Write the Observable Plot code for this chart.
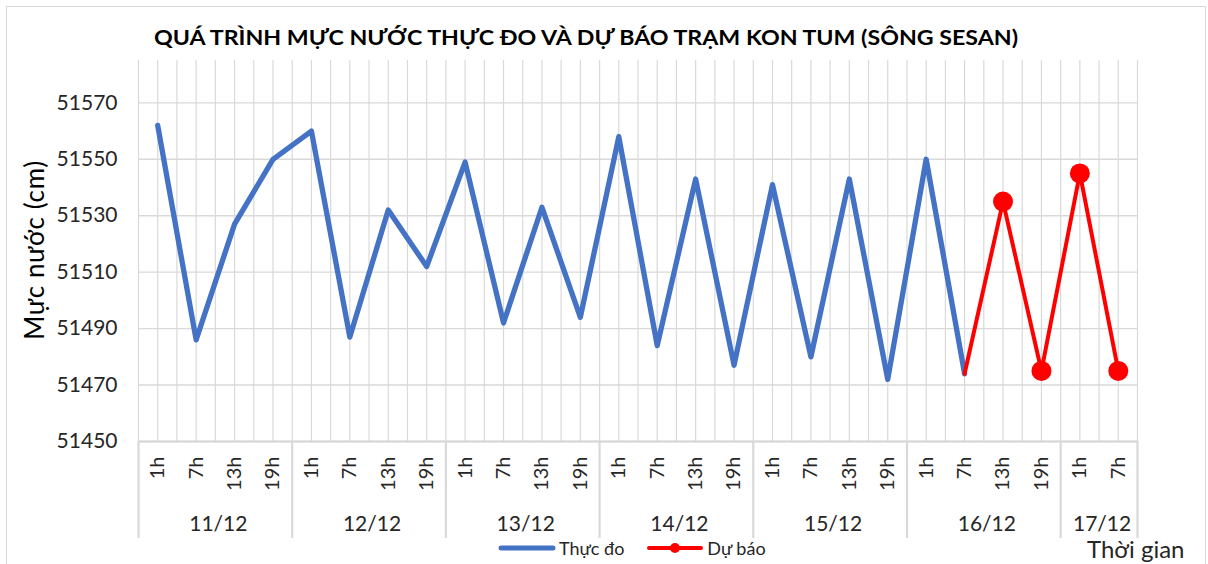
<!DOCTYPE html>
<html><head><meta charset="utf-8">
<script src="https://cdn.jsdelivr.net/npm/d3@7"></script>
<script src="https://cdn.jsdelivr.net/npm/@observablehq/plot@0.6"></script>
<style>
body{margin:0;background:#fff;}
#wrap{position:relative;width:1208px;height:564px;overflow:hidden;font-family:Lato,"Open Sans",sans-serif;color:#262626;}
#frame{position:absolute;left:6px;top:6px;width:1200px;height:620px;border:1.5px solid #d9d9d9;box-sizing:border-box;}
#chart{position:absolute;left:0;top:0;}
#title{position:absolute;top:27px;left:154px;white-space:nowrap;font-weight:bold;font-size:20px;color:#000;transform-origin:0 0;line-height:1;}
#ylab{position:absolute;left:34px;top:250px;white-space:nowrap;font-size:26px;letter-spacing:0.6px;transform:translate(-50%,-50%) rotate(-90deg);color:#000;}
#xlab{position:absolute;left:1087px;top:537px;font-size:24px;line-height:1;white-space:nowrap;color:#262626;}
#legend{position:absolute;left:498px;top:537px;display:flex;align-items:center;font-size:18px;white-space:nowrap;}
#legend .item{display:flex;align-items:center;margin-right:22px;}
#legend svg{margin-right:3px;}
</style></head>
<body>
<div id="wrap">
  <div id="frame"></div>
  <div id="chart"></div>
  <div id="title"><span id="tspan">QUÁ TRÌNH MỰC NƯỚC THỰC ĐO VÀ DỰ BÁO TRẠM KON TUM (SÔNG SESAN)</span></div>
  <div id="ylab">Mực nước (cm)</div>
  <div id="legend">
    <div class="item"><svg width="58" height="12"><line x1="3" y1="6" x2="55" y2="6" stroke="#4472C4" stroke-width="5" stroke-linecap="round"/></svg><span>Thực đo</span></div>
    <div class="item"><svg width="58" height="12"><line x1="3" y1="6" x2="55" y2="6" stroke="#ff0000" stroke-width="4" stroke-linecap="round"/><circle cx="29" cy="6" r="5" fill="#ff0000"/></svg><span>Dự báo</span></div>
  </div>
  <div id="xlab">Thời gian</div>
</div>
<script>
// ---- data ----
const dayLabels = ["11/12","12/12","13/12","14/12","15/12","16/12","17/12"];
const dayCounts = [4,4,4,4,4,4,2];
const hourLabels = ["1h","7h","13h","19h","1h","7h","13h","19h","1h","7h","13h","19h","1h","7h","13h","19h","1h","7h","13h","19h","1h","7h","13h","19h","1h","7h"];
const measured = [51562,51486,51527,51550,51560,51487,51532,51512,51549,51492,51533,51494,51558,51484,51543,51477,51541,51480,51543,51472,51550,51474];
const forecast = [null,null,null,null,null,null,null,null,null,null,null,null,null,null,null,null,null,null,null,null,null,51474,51535,51475,51545,51475];
const forecastMarker = [false,false,false,false,false,false,false,false,false,false,false,false,false,false,false,false,false,false,false,false,false,false,true,true,true,true];
const yTicks = [51450,51470,51490,51510,51530,51550,51570];

// ---- derived tables ----
const n = hourLabels.length;
const idx = d3.range(n);
const measuredData = measured.map((v,i)=>({i, v}));
const forecastData = forecast.map((v,i)=>({i, v, m: forecastMarker[i]})).filter(d=>d.v!=null);
const halfGrid = d3.range(-0.5, n, 0.5);
const dayBounds = [-0.5];
dayCounts.forEach(c=>dayBounds.push(dayBounds[dayBounds.length-1]+c));
const dayCenters = dayLabels.map((d,k)=>(dayBounds[k]+dayBounds[k+1])/2);
const dayByCenter = new Map(dayCenters.map((c,k)=>[c, dayLabels[k]]));

const chart = Plot.plot({
  width: 1208, height: 564,
  marginLeft: 138, marginRight: 71, marginTop: 60, marginBottom: 123,
  style: {fontFamily: "Lato, 'Open Sans', sans-serif", color: "#262626", background: "transparent"},
  x: {domain: [-0.5, n-0.5], axis: null},
  y: {domain: [51450, 51585], axis: null},
  marks: [
    Plot.ruleX(halfGrid, {stroke: "#d9d9d9", strokeWidth: 1.2}),
    Plot.ruleY(yTicks, {stroke: "#d9d9d9", strokeWidth: 1.4}),
    Plot.ruleY([51450], {stroke: "#d6d6d6", strokeWidth: 2.2}),
    Plot.axisX(dayBounds, {label: null, tickSize: 97, tickFormat: () => "", stroke: "#d9d9d9", strokeWidth: 2.2}),
    Plot.axisY(yTicks, {label: null, tickSize: 0, tickPadding: 21, fontSize: 21, tickFormat: d => String(d), fill: "#262626"}),
    Plot.axisX(idx, {label: null, tickSize: 0, tickPadding: 15, tickRotate: -90, fontSize: 20, tickFormat: i => hourLabels[i], fill: "#262626"}),
    Plot.axisX(dayCenters, {label: null, tickSize: 0, tickPadding: 75, fontSize: 21, dx: 3, tickFormat: c => dayByCenter.get(c), fill: "#262626"}),
    Plot.line(measuredData, {x: "i", y: "v", stroke: "#4472C4", strokeWidth: 5.3, strokeLinejoin: "round", strokeLinecap: "round"}),
    Plot.line(forecastData, {x: "i", y: "v", stroke: "#ff0000", strokeWidth: 4, strokeLinejoin: "round"}),
    Plot.dot(forecastData.filter(d=>d.m), {x: "i", y: "v", r: 10, fill: "#ff0000"})
  ]
});
document.getElementById("chart").appendChild(chart);
const ts = document.getElementById("tspan");
const w = ts.getBoundingClientRect().width;
document.getElementById("title").style.transform = `scaleX(${864/w})`;
</script>
</body></html>
